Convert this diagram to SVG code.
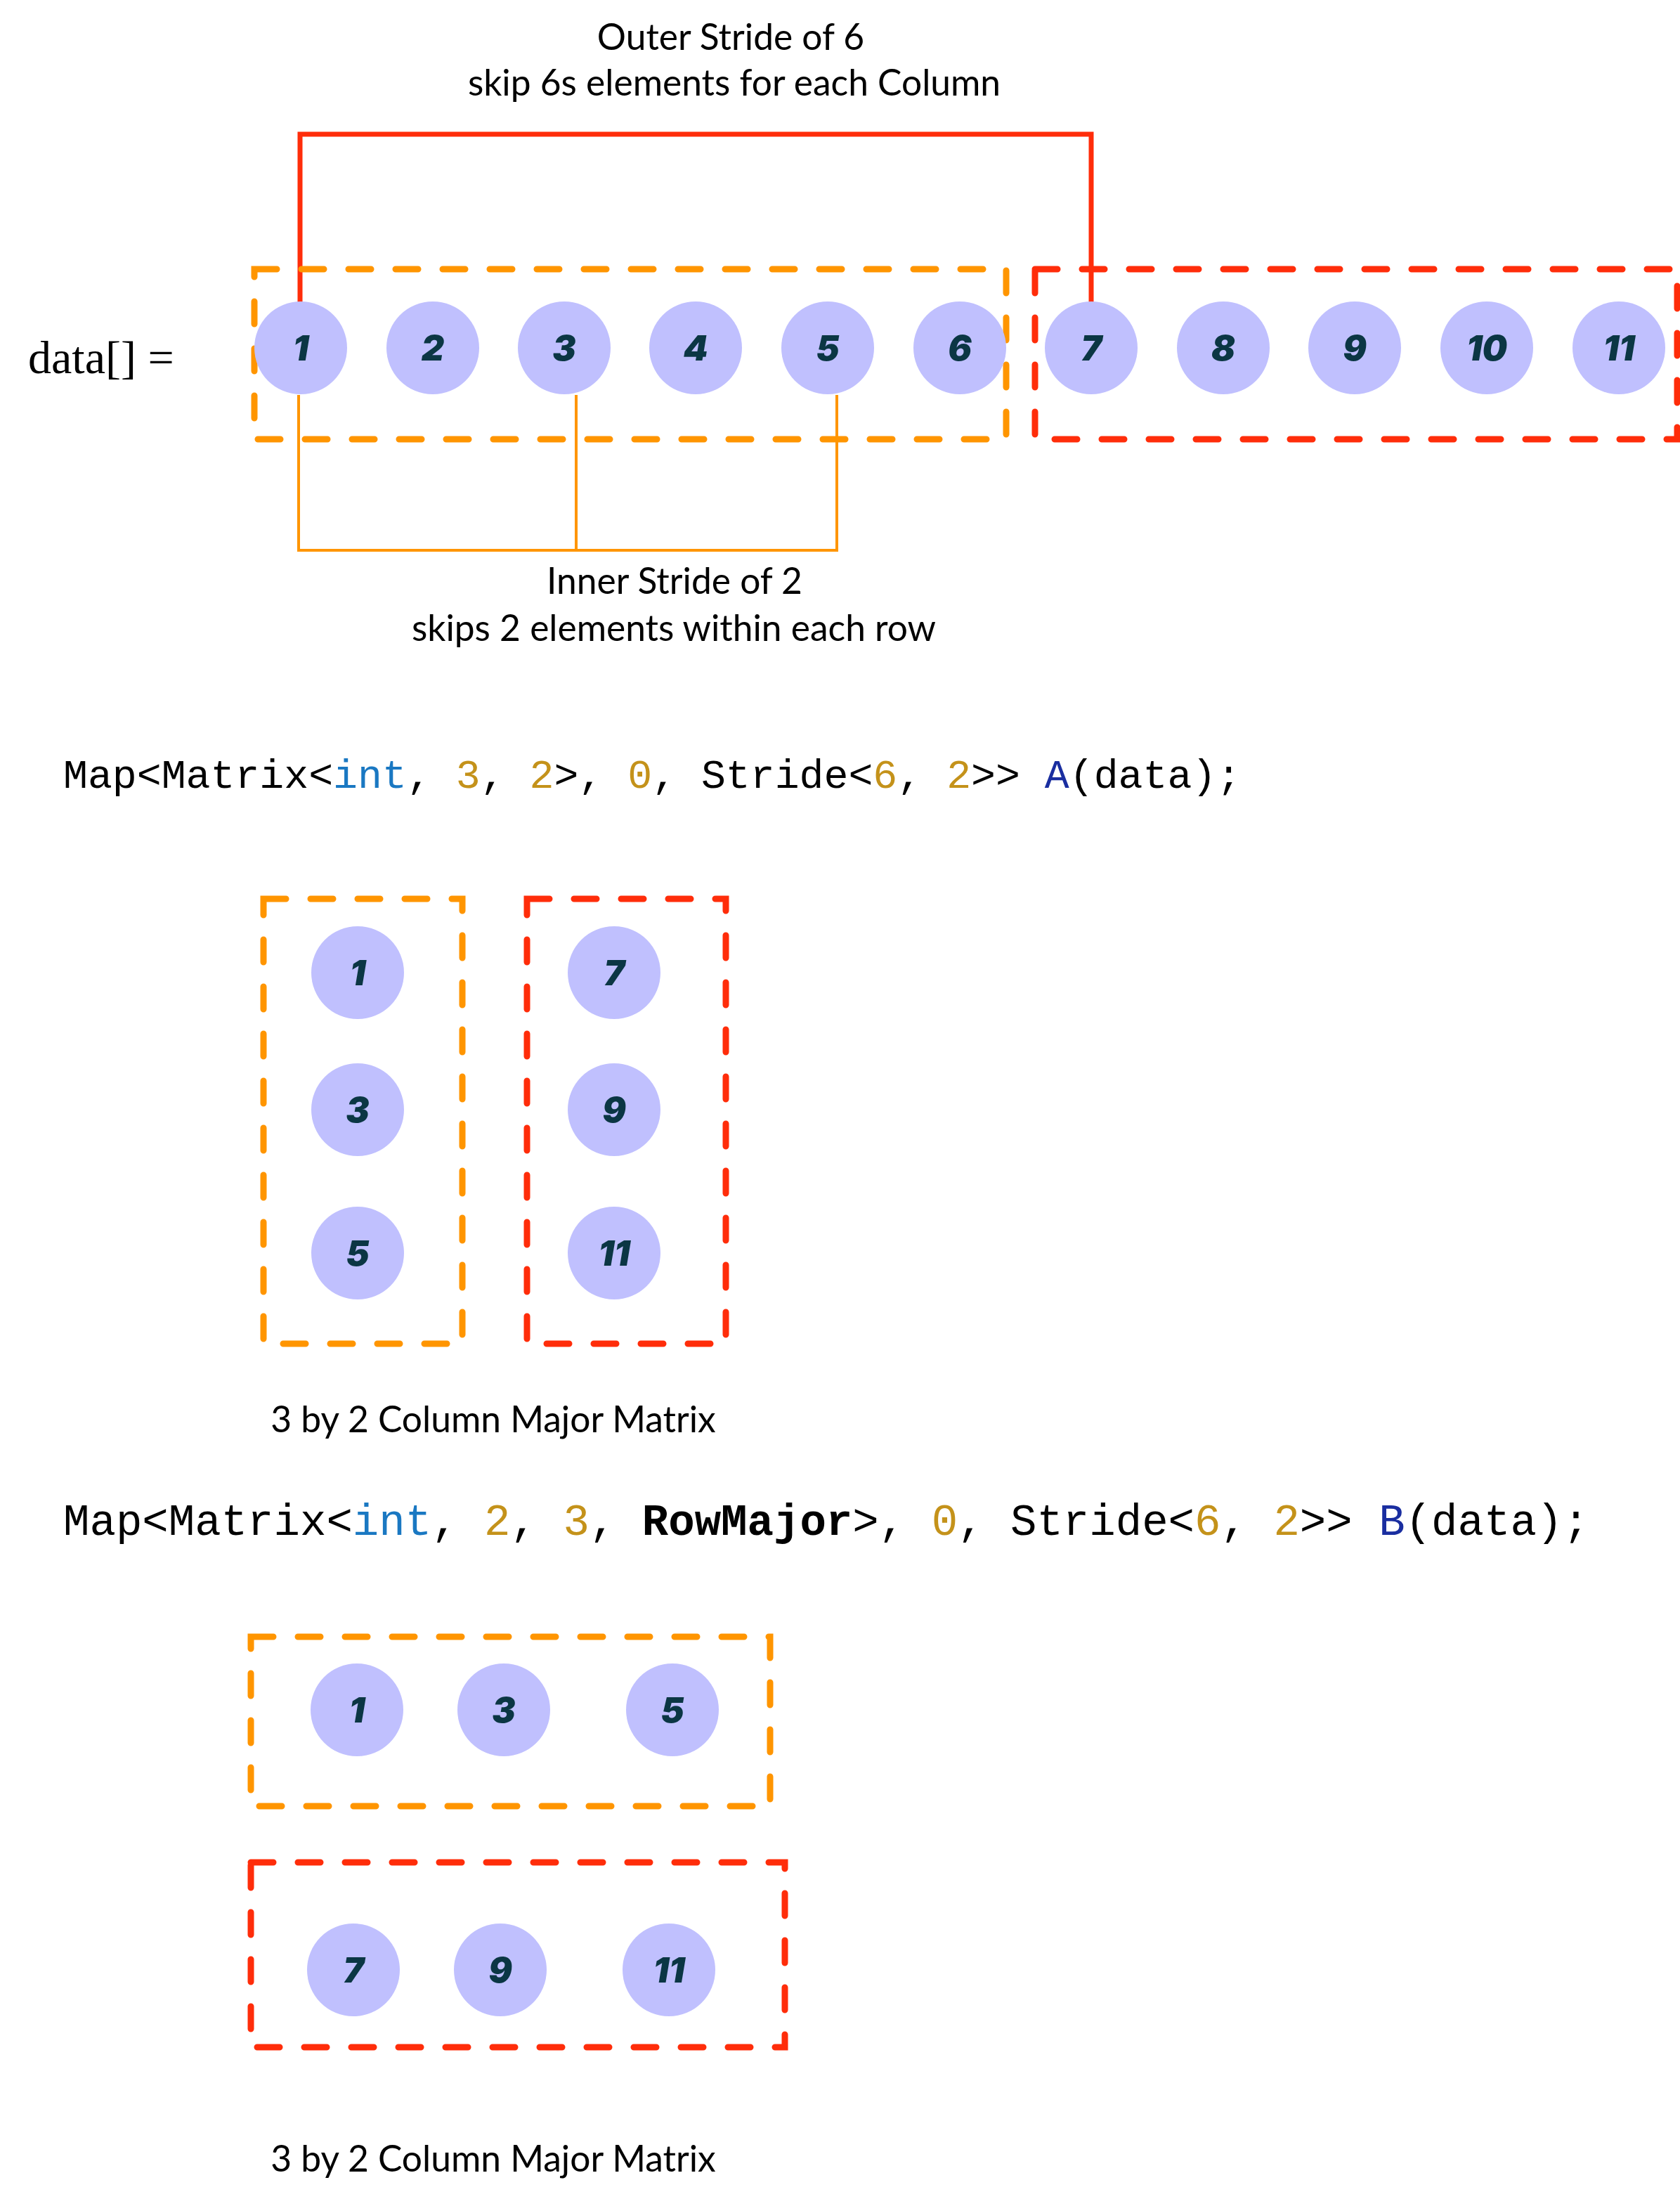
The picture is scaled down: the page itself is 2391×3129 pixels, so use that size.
<svg xmlns="http://www.w3.org/2000/svg" width="2391" height="3129" viewBox="0 0 2391 3129">
<style>
.bg{fill:#ffffff}
.node circle{fill:#c0c0fe}
.node text{font-family:"Inter","Open Sans",sans-serif;font-weight:900;font-style:italic;font-size:50px;fill:#0b3644;text-anchor:middle}
.box-o{fill:none;stroke:#ff9500;stroke-width:9;stroke-dasharray:32 35;stroke-linecap:round}
.box-r{fill:none;stroke:#ff2d0a;stroke-width:9;stroke-dasharray:32 35;stroke-linecap:round}
.lbl{font-family:"Lato","Noto Sans",sans-serif;font-size:51.5px;fill:#000;text-anchor:middle}
.code1{font-family:"Liberation Mono","Courier New",monospace;font-size:58.2px;fill:#000}
.code2{font-family:"Liberation Mono","Courier New",monospace;font-size:62.4px;fill:#000}
.kw{fill:#1a78c2}
.num{fill:#c4921a}
.var{fill:#1a2ea0}
.b{font-weight:bold}
.red{fill:none;stroke:#ff2d0a;stroke-width:7;stroke-linejoin:miter}
.org{fill:none;stroke:#ff9500;stroke-width:4}
</style>
<rect class="bg" x="0" y="0" width="2391" height="3129"/>

<text class="lbl" x="1040" y="71">Outer Stride of 6</text>
<text class="lbl" x="1045" y="136">skip 6s elements for each Column</text>
<text x="40" y="531" style="font-family:'Liberation Serif','Times New Roman',serif;font-size:66px;fill:#000">data[] =</text>

<g id="connectors">
<path class="red" d="M427,431 V191 H1553 V431"/>
<path class="org" d="M425,562 V783 H1191 V562 M820,562 V783"/>
</g>

<rect id="box-top-orange" class="box-o" x="362" y="383" width="1070" height="242"/>
<rect id="box-top-red" class="box-r" x="1473" y="383" width="914" height="242"/>

<g id="n1" class="node"><circle cx="428" cy="495" r="66"/><text x="428" y="513">1</text></g>
<g id="n2" class="node"><circle cx="616" cy="495" r="66"/><text x="616" y="513">2</text></g>
<g id="n3" class="node"><circle cx="803" cy="495" r="66"/><text x="803" y="513">3</text></g>
<g id="n4" class="node"><circle cx="990" cy="495" r="66"/><text x="990" y="513">4</text></g>
<g id="n5" class="node"><circle cx="1178" cy="495" r="66"/><text x="1178" y="513">5</text></g>
<g id="n6" class="node"><circle cx="1366" cy="495" r="66"/><text x="1366" y="513">6</text></g>
<g id="n7" class="node"><circle cx="1553" cy="495" r="66"/><text x="1553" y="513">7</text></g>
<g id="n8" class="node"><circle cx="1741" cy="495" r="66"/><text x="1741" y="513">8</text></g>
<g id="n9" class="node"><circle cx="1928" cy="495" r="66"/><text x="1928" y="513">9</text></g>
<g id="n10" class="node"><circle cx="2116" cy="495" r="66"/><text x="2116" y="513">10</text></g>
<g id="n11" class="node"><circle cx="2304" cy="495" r="66"/><text x="2304" y="513">11</text></g>

<text class="lbl" x="960" y="845">Inner Stride of 2</text>
<text class="lbl" x="959" y="912">skips 2 elements within each row</text>

<text class="code1" x="90" y="1121">Map&lt;Matrix&lt;<tspan class="kw">int</tspan>, <tspan class="num">3</tspan>, <tspan class="num">2</tspan>&gt;, <tspan class="num">0</tspan>, Stride&lt;<tspan class="num">6</tspan>, <tspan class="num">2</tspan>&gt;&gt; <tspan class="var">A</tspan>(data);</text>

<rect id="box-a-col1" class="box-o" x="375" y="1279" width="283" height="633"/>
<rect id="box-a-col2" class="box-r" x="750" y="1279" width="283" height="633"/>
<g id="a1" class="node"><circle cx="509" cy="1384" r="66"/><text x="509" y="1402">1</text></g>
<g id="a3" class="node"><circle cx="509" cy="1579" r="66"/><text x="509" y="1597">3</text></g>
<g id="a5" class="node"><circle cx="509" cy="1783" r="66"/><text x="509" y="1801">5</text></g>
<g id="a7" class="node"><circle cx="874" cy="1384" r="66"/><text x="874" y="1402">7</text></g>
<g id="a9" class="node"><circle cx="874" cy="1579" r="66"/><text x="874" y="1597">9</text></g>
<g id="a11" class="node"><circle cx="874" cy="1783" r="66"/><text x="874" y="1801">11</text></g>
<text class="lbl" x="702" y="2038">3 by 2 Column Major Matrix</text>

<text class="code2" x="90" y="2184">Map&lt;Matrix&lt;<tspan class="kw">int</tspan>, <tspan class="num">2</tspan>, <tspan class="num">3</tspan>, <tspan class="b">RowMajor</tspan>&gt;, <tspan class="num">0</tspan>, Stride&lt;<tspan class="num">6</tspan>, <tspan class="num">2</tspan>&gt;&gt; <tspan class="var">B</tspan>(data);</text>

<rect id="box-b-row1" class="box-o" x="357" y="2329" width="739" height="241"/>
<rect id="box-b-row2" class="box-r" x="357" y="2650" width="760" height="263"/>
<g id="b1" class="node"><circle cx="508" cy="2433" r="66"/><text x="508" y="2451">1</text></g>
<g id="b3" class="node"><circle cx="717" cy="2433" r="66"/><text x="717" y="2451">3</text></g>
<g id="b5" class="node"><circle cx="957" cy="2433" r="66"/><text x="957" y="2451">5</text></g>
<g id="b7" class="node"><circle cx="503" cy="2803" r="66"/><text x="503" y="2821">7</text></g>
<g id="b9" class="node"><circle cx="712" cy="2803" r="66"/><text x="712" y="2821">9</text></g>
<g id="b11" class="node"><circle cx="952" cy="2803" r="66"/><text x="952" y="2821">11</text></g>
<text class="lbl" x="702" y="3090">3 by 2 Column Major Matrix</text>
</svg>
